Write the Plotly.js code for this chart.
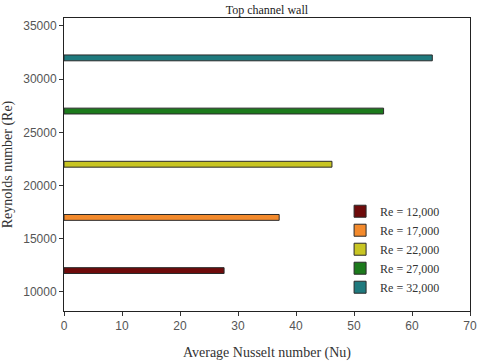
<!DOCTYPE html>
<html>
<head>
<meta charset="utf-8">
<script src="https://cdn.plot.ly/plotly-3.0.1.min.js"></script>
<style>
  html, body { margin: 0; padding: 0; background: #fff; }
  #chart { width: 480px; height: 361px; }
</style>
</head>
<body>
<div id="chart"></div>
<script>
// Reynolds numbers and the average Nusselt number read for each
var reynolds = [12000, 17000, 22000, 27000, 32000];
var nusselt = [27.6, 37.1, 46.2, 55.1, 63.5];
var names = ['Re = 12,000', 'Re = 17,000', 'Re = 22,000', 'Re = 27,000', 'Re = 32,000'];
var colors = ['#6e0b0b', '#f38a2c', '#c8c523', '#1c7a1c', '#1f7a7e'];

var serif = '"Liberation Serif", "Times New Roman", serif';
var sans = '"Liberation Sans", Arial, sans-serif';

var data = reynolds.map(function(re, i) {
  return {
    type: 'bar',
    orientation: 'h',
    x: [nusselt[i]],
    y: [re],
    name: names[i],
    width: 550,
    marker: {color: colors[i], line: {color: '#2a2a2a', width: 1}}
  };
});

var layout = {
  width: 480,
  height: 361,
  margin: {l: 64, r: 10, t: 18, b: 50},
  paper_bgcolor: '#fff',
  plot_bgcolor: '#fff',
  barmode: 'overlay',
  showlegend: true,
  title: {
    text: 'Top channel wall',
    font: {family: serif, size: 12, color: '#222'},
    x: 0.556, xanchor: 'center',
    y: 0.985, yanchor: 'top'
  },
  xaxis: {
    range: [0, 70],
    dtick: 10,
    ticks: 'outside', ticklen: 4, tickcolor: '#333',
    showgrid: false, zeroline: false,
    showline: true, linecolor: '#222', linewidth: 1, mirror: true,
    tickfont: {family: sans, size: 12, color: '#555'},
    title: {text: 'Average Nusselt number (Nu)', font: {family: serif, size: 14, color: '#333'}, standoff: 14}
  },
  yaxis: {
    range: [8200, 35750],
    dtick: 5000,
    tickformat: 'd',
    ticks: 'outside', ticklen: 4, tickcolor: '#333',
    showgrid: false, zeroline: false,
    showline: true, linecolor: '#222', linewidth: 1, mirror: true,
    tickfont: {family: sans, size: 12, color: '#555'},
    title: {text: 'Reynolds number (Re)', font: {family: serif, size: 14, color: '#333'}, standoff: 8}
  },
  legend: {
    x: 0.68, y: 0.39, xanchor: 'left', yanchor: 'top',
    bgcolor: 'rgba(0,0,0,0)',
    font: {family: serif, size: 12, color: '#333'},
    tracegroupgap: 0,
    itemwidth: 30
  }
};

Plotly.newPlot('chart', data, layout, {displayModeBar: false, staticPlot: true});
</script>
</body>
</html>
